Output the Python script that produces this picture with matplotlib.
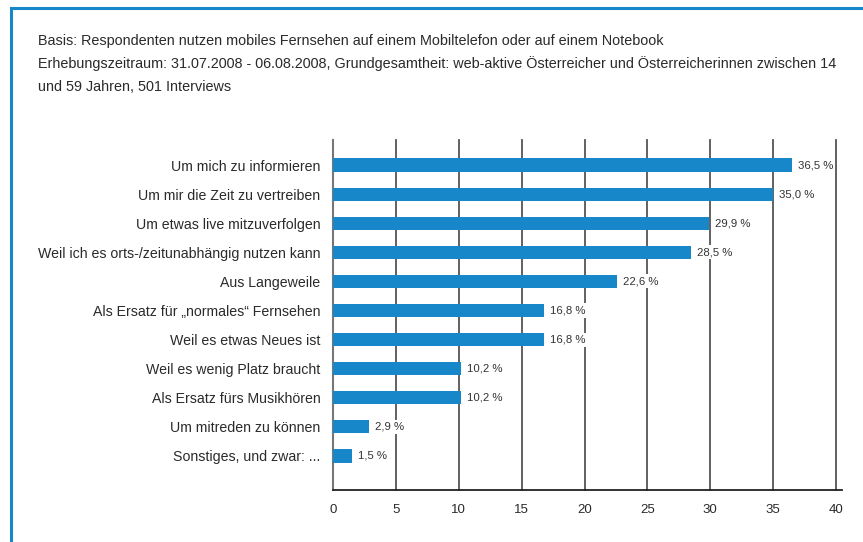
import matplotlib
matplotlib.use("Agg")
import matplotlib.pyplot as plt
from matplotlib.lines import Line2D

categories = [
    "Um mich zu informieren",
    "Um mir die Zeit zu vertreiben",
    "Um etwas live mitzuverfolgen",
    "Weil ich es orts-/zeitunabhängig nutzen kann",
    "Aus Langeweile",
    "Als Ersatz für „normales“ Fernsehen",
    "Weil es etwas Neues ist",
    "Weil es wenig Platz braucht",
    "Als Ersatz fürs Musikhören",
    "Um mitreden zu können",
    "Sonstiges, und zwar: ...",
]
values = [36.5, 35.0, 29.9, 28.5, 22.6, 16.8, 16.8, 10.2, 10.2, 2.9, 1.5]
xticks = [0, 5, 10, 15, 20, 25, 30, 35, 40]
header = [
    "Basis: Respondenten nutzen mobiles Fernsehen auf einem Mobiltelefon oder auf einem Notebook",
    "Erhebungszeitraum: 31.07.2008 - 06.08.2008, Grundgesamtheit: web-aktive Österreicher und Österreicherinnen zwischen 14",
    "und 59 Jahren, 501 Interviews",
]

W, H = 863, 542
plt.rcParams['font.family'] = ['Liberation Sans', 'DejaVu Sans']
fig = plt.figure(figsize=(W / 100, H / 100), dpi=100)

# blue frame (top and left)
blue = "#1787C9"
fig.add_artist(Line2D([11 / W, 1], [1 - 7.5 / H, 1 - 7.5 / H], color=blue, lw=2.2, transform=fig.transFigure))
fig.add_artist(Line2D([11 / W, 11 / W], [0, 1 - 7.5 / H], color=blue, lw=2.2, transform=fig.transFigure))

for i, line in enumerate(header):
    fig.text(38 / W, 1 - (41 + 23 * i) / H, line, fontsize=10.35, color="#2a2a2a", va="center", ha="left")

x0, x1 = 333, 836
y_top, y_bot = 140, 490
ax = fig.add_axes([x0 / W, 1 - y_bot / H, (x1 - x0) / W, (y_bot - y_top) / H])

n = len(categories)
ypos = list(range(n))
ax.barh(ypos, values, height=0.45, color=blue, zorder=3)
ax.set_ylim(n - 1 + 1.17, -0.86)
ax.set_xlim(0, 40)

for x in xticks[1:]:
    ax.axvline(x, color="#555555", lw=1.3, zorder=1, clip_on=False)

for y, v in zip(ypos, values):
    ax.text(v + 0.45, y, f"{v:.1f} %".replace(".", ","), va="center", ha="left", fontsize=8.2,
            color="#333333", zorder=4,
            bbox=dict(facecolor="white", edgecolor="none", pad=1.5))

ax.set_yticks(ypos)
ax.set_yticklabels(categories, fontsize=10.2, color="#2a2a2a")
ax.set_xticks(xticks)
ax.set_xticklabels([str(t) for t in xticks], fontsize=9.5, color="#2a2a2a")
ax.tick_params(axis="y", length=0, pad=9)
ax.tick_params(axis="x", length=0, pad=10)

for s in ["top", "right"]:
    ax.spines[s].set_visible(False)
ax.spines["left"].set_color("#777777")
ax.spines["left"].set_linewidth(1.5)
ax.spines["bottom"].set_color("#222222")
ax.spines["bottom"].set_linewidth(1.3)
ax.spines["bottom"].set_bounds(0, 40.5)
ax.spines["bottom"].set_clip_on(False)

fig.savefig("out.png", dpi=100)
